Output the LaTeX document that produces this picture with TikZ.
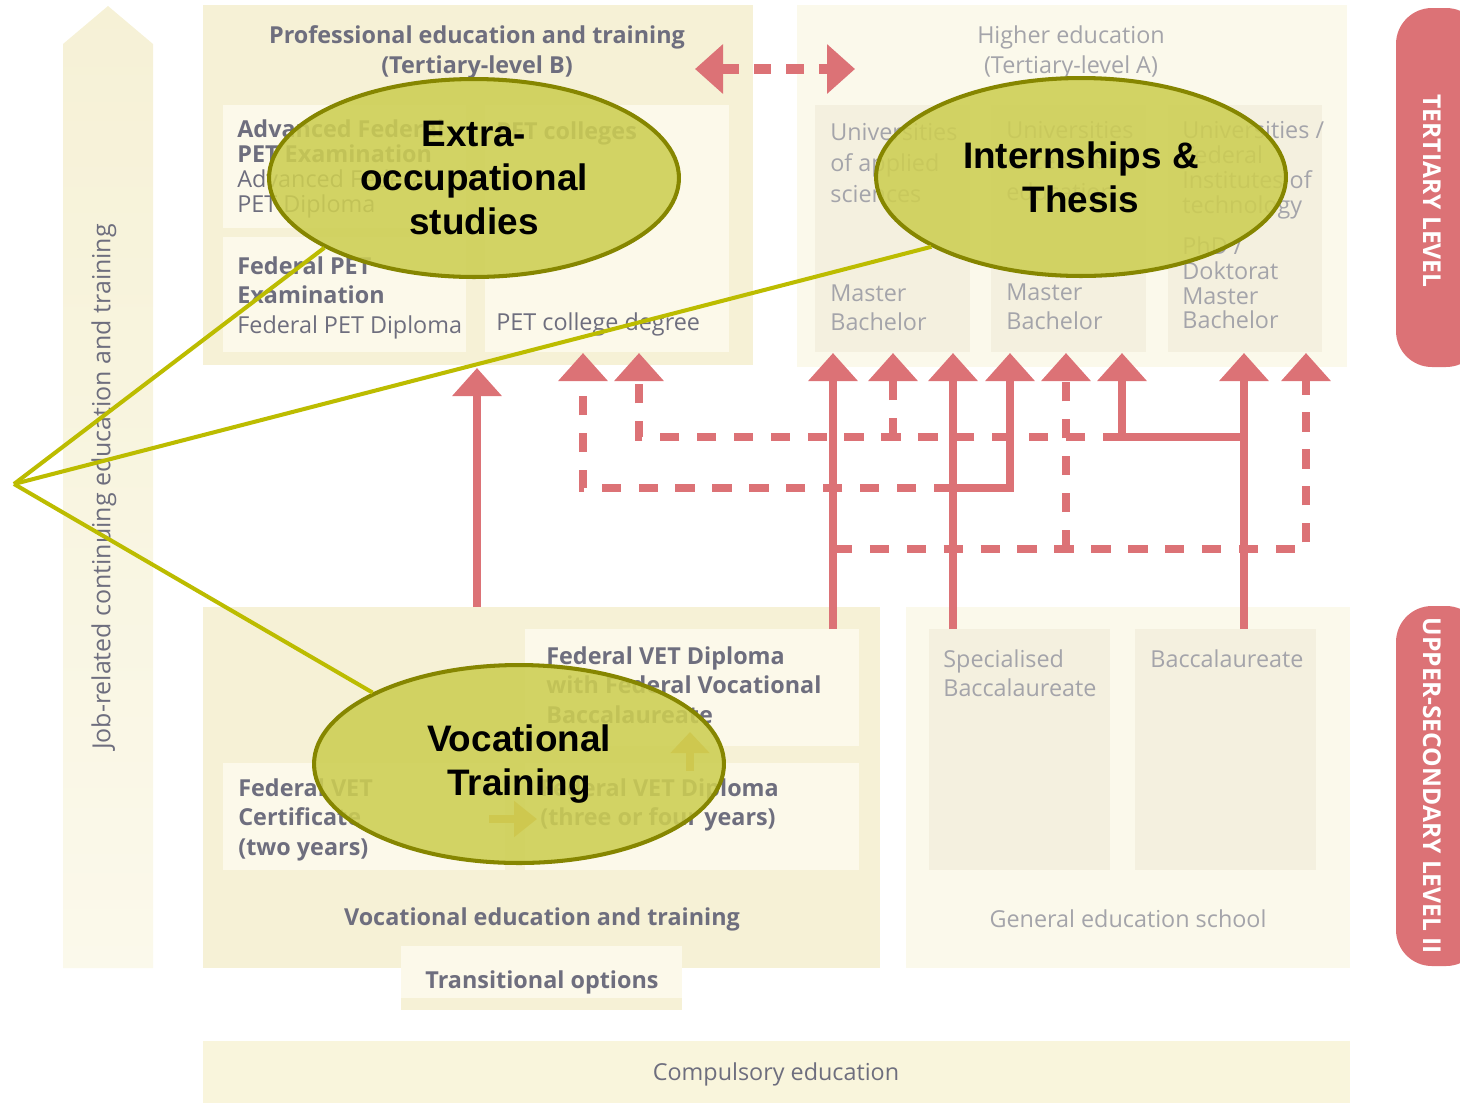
\documentclass[tikz,border=0pt]{standalone}
\usepackage{fontspec}
\setmainfont{Open Sans}
\newfontfamily\bubblefont{Liberation Sans}
\usetikzlibrary{arrows.meta,shapes.geometric}
\definecolor{petfill}{HTML}{F6F1D6}
\definecolor{petin}{HTML}{FCF9EA}
\definecolor{unifill}{HTML}{FBF9EB}
\definecolor{uniin}{HTML}{F4F0DF}
\definecolor{compfill}{HTML}{F9F5DC}
\definecolor{petgray}{HTML}{6E6E7E}
\definecolor{unigray}{HTML}{A4A4AA}
\definecolor{levelred}{HTML}{DC7276}
\definecolor{vetorange}{HTML}{D9A441}
\definecolor{bubblefill}{HTML}{CDCE52}
\definecolor{bubbleline}{HTML}{868600}
\definecolor{calloutline}{HTML}{BCBC00}
\newcommand{\txtsize}{\fontsize{13.3}{17}\selectfont}
\begin{document}
\begin{tikzpicture}[x=0.02cm, y=-0.02cm,
  lbl/.style={inner sep=0, text=petgray, font=\txtsize\bfseries, align=left},
  plain/.style={inner sep=0, text=petgray, font=\txtsize, align=left},
  hint/.style={inner sep=0, text=unigray, font=\txtsize, align=left},
  route/.style={levelred, line width=4.5pt, -{Triangle[length=0.56cm, width=0.96cm]}},
  link/.style={route, dash pattern=on 11pt off 10pt},
  turn/.style={vetorange, line width=4.5pt},
  level/.style={levelred, rounded corners=0.72cm},
  bubble/.style={ellipse, draw=bubbleline, line width=2.3pt, fill=bubblefill, fill opacity=0.88, text opacity=1,
    minimum width=8.2cm, minimum height=3.96cm, inner sep=0, align=center,
    font=\bubblefont\bfseries\fontsize{21}{25}\selectfont},
  callout/.style={calloutline, line width=2.3pt}]
\useasboundingbox (0,0) rectangle (1460,1103);

% continuing education column
\shade[top color=petfill, bottom color=unifill] (63,968) -- (63,44) -- (108,6) -- (153,44) -- (153,968) -- cycle;
\node[plain, rotate=90, font=\fontsize{14.2}{17}\selectfont] (job) at (104,487) {Job-related continuing education and training};

% professional education and training
\fill[petfill] (203,5) rectangle (753,365);
\fill[petin] (223,105) rectangle (466,228);
\fill[petin] (223,237) rectangle (466,352);
\fill[petin] (485,105) rectangle (729,352);
\node[lbl, align=center] (pet) at (477,52) {Professional education and training\\(Tertiary-level B)};
\node[plain, anchor=north west, font=\fontsize{13.3}{14.3}\selectfont] (advexam) at (237,119)
  {\textbf{Advanced Federal}\\\textbf{PET Examination}\\Advanced Federal\\PET Diploma};
\node[lbl, anchor=north west] (fedexam) at (237,256) {Federal PET\\Examination\\{\mdseries Federal PET Diploma}};
\node[lbl, anchor=west] (petcol) at (496,133) {PET colleges};
\node[plain, anchor=west] (petdeg) at (496,324) {PET college degree};

% higher education
\fill[unifill] (797,5) rectangle (1347,367);
\fill[uniin] (815,105) rectangle (970,352);
\fill[uniin] (991,105) rectangle (1146,352);
\fill[uniin] (1168,105) rectangle (1322,352);
\node[hint, align=center] (uni) at (1071,52) {Higher education\\(Tertiary-level A)};
\node[hint, anchor=north west, font=\fontsize{13.3}{17.6}\selectfont] (uas) at (830,123) {Universities\\of applied\\sciences};
\node[hint, anchor=north west] (uasdeg) at (830,284) {Master\\Bachelor};
\node[hint, anchor=north west, font=\fontsize{13.3}{17.6}\selectfont] (ute) at (1006,121) {Universities\\of teacher\\education};
\node[hint, anchor=north west] (utedeg) at (1006,283) {Master\\Bachelor};
\node[hint, anchor=north west, font=\fontsize{13.3}{14.2}\selectfont] (eth) at (1182,121) {Universities /\\Federal\\Institutes of\\technology};
\node[hint, anchor=north west, font=\fontsize{13.3}{14.2}\selectfont] (ethdeg) at (1182,236) {PhD /\\Doktorat\\Master\\Bachelor};

% levels
\fill[level] (1396,8) rectangle (1482,367);
\node[inner sep=0, text=white, font=\fontsize{14}{16}\selectfont\bfseries, rotate=-90] (tertiary) at (1432,191) {TERTIARY LEVEL};
\fill[level] (1396,606) rectangle (1482,966);
\node[inner sep=0, text=white, font=\fontsize{14}{16}\selectfont\bfseries, rotate=-90] (upper) at (1432,786) {UPPER-SECONDARY LEVEL II};

% vocational education and training
\fill[petfill] (203,607) rectangle (880,968);
\fill[petin] (525,629) rectangle (859,746);
\fill[petin] (223,763) rectangle (505,870);
\fill[petin] (525,763) rectangle (859,870);
\node[lbl, anchor=north west] (vb) at (546,646) {Federal VET Diploma\\with Federal Vocational\\Baccalaureate};
\node[lbl, anchor=north west] (cert) at (238,778) {Federal VET\\Certificate\\(two years)};
\node[lbl, anchor=north west] (dipl) at (540,778) {Federal VET Diploma\\(three or four years)};
\node[lbl] (vet) at (542,919) {Vocational education and training};
\fill[petin] (401,946) rectangle (682,1010);
\fill[petfill] (401,998) rectangle (682,1010);
\node[lbl] (trans) at (542,982) {Transitional options};

% general education school
\fill[unifill] (906,607) rectangle (1350,968);
\fill[uniin] (929,629) rectangle (1110,870);
\fill[uniin] (1135,629) rectangle (1316,870);
\node[hint, anchor=north west] (spec) at (943,649) {Specialised\\Baccalaureate};
\node[hint, anchor=north west] (bacc) at (1150,649) {Baccalaureate};
\node[hint] (gen) at (1128,919) {General education school};

% compulsory education
\fill[compfill] (203,1041) rectangle (1350,1103);
\node[plain] (comp) at (776,1074) {Compulsory education};

% pathways
\coordinate (vetTop) at (477,607);
\coordinate (petIn) at (477,368);
\foreach \n/\x in {pc1/583, pc2/639, uas1/833, uas2/893, uas3/953, ute1/1010, ute2/1066, ute3/1122, eth1/1244, eth2/1306}
  \coordinate (\n) at (\x,353);
\coordinate (vbTop) at (833,629);
\coordinate (specTop) at (953,629);
\coordinate (baccTop) at (1244,629);
\coordinate (specJoin) at (953,488);
\coordinate (baccJoin) at (1244,437);
\coordinate (baccDash) at (1122,437);
\coordinate (uasJoin) at (893,437);
\coordinate (vbJoin) at (833,549);
\coordinate (uteJoin) at (1066,549);
\draw[route] (vetTop) -- (petIn);
\draw[route] (vbTop) -- (uas1);
\draw[route] (specTop) -- (uas3);
\draw[route] (specJoin) -| (ute1);
\draw[route] (baccTop) -- (eth1);
\draw[route] (baccJoin) -| (ute3);
\draw[link] (specJoin) -| (pc1);
\draw[link] (baccDash) -| (pc2);
\draw[link] (uasJoin) -- (uas2);
\draw[link] (vbJoin) -| (eth2);
\draw[link] (uteJoin) -- (ute2);
\coordinate (petSide) at (695,69);
\coordinate (uniSide) at (855,69);
\draw[link, line width=5.5pt, dash pattern=on 10pt off 8.5pt,
  {Triangle[length=0.56cm, width=0.96cm]}-{Triangle[length=0.56cm, width=0.96cm]}] (petSide) -- (uniSide);

% within VET
\coordinate (certOut) at (489,819);
\coordinate (diplIn) at (537,819);
\coordinate (diplOut) at (690,771);
\coordinate (vbIn) at (690,732);
\draw[turn, -{Triangle[length=0.46cm, width=0.7cm]}] (certOut) -- (diplIn);
\draw[turn, -{Triangle[length=0.42cm, width=0.76cm]}] (diplOut) -- (vbIn);

% bubbles
\node[bubble] (extra) at (474,178) {Extra-\\occupational\\studies};
\node[bubble] (intern) at (1081,177) {Internships \&\\Thesis};
\node[bubble] (voc) at (519,764) {Vocational\\Training};
\coordinate (hub) at (14,484);
\draw[callout] (hub) -- (extra.205);
\draw[callout] (hub) -- (intern.205);
\draw[callout] (hub) -- (voc.154);
\end{tikzpicture}
\end{document}
